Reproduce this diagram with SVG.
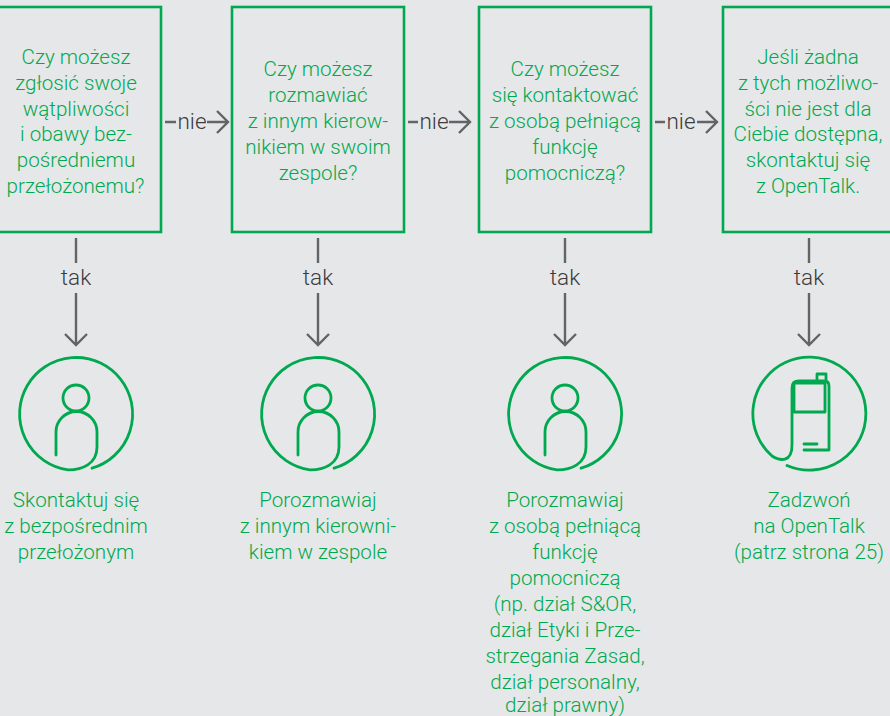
<svg xmlns="http://www.w3.org/2000/svg" width="890" height="716" viewBox="0 0 890 716">
<defs>
<style>
text{font-family:"Roboto","Liberation Sans",sans-serif;font-weight:300;font-size:20.6px;text-anchor:middle}
.g{fill:#00a94f}
.d{fill:#3c3c3e;font-size:22.5px}
.box{fill:none;stroke:#00a94f;stroke-width:2.6}
.ic{fill:none;stroke:#00a94f;stroke-width:2.8;stroke-linecap:round;stroke-linejoin:round}
.c{fill:none;stroke:#636466;stroke-width:2.4}
</style>
<g id="person"><path class="ic" d="M16 54.2A56.5 56.5 0 1 0 -8 55.9C6 56 21 50 21 33V18A20.5 20.5 0 0 0 -20 18V41"/><circle class="ic" cx="0" cy="-16" r="13"/></g>
</defs>
<rect width="890" height="716" fill="#e6e7e8"/>
<g id="connectors">
<path class="c" d="M165 122H176M207 122H228M217 111L228 122L217 133"/>
<path class="c" d="M408 122H418M449 122H470M459 111L470 122L459 133"/>
<path class="c" d="M655 122H665M697 122H717M706 111L717 122L706 133"/>
<path class="c" d="M76 238V263M76 293V345M65 334L76 345L87 334"/>
<path class="c" d="M318 238V263M318 293V345M307 334L318 345L329 334"/>
<path class="c" d="M565 238V263M565 293V345M554 334L565 345L576 334"/>
<path class="c" d="M809 238V263M809 293V345M798 334L809 345L820 334"/>
<text class="d" x="192" y="128.5">nie</text>
<text class="d" x="434" y="128.5">nie</text>
<text class="d" x="681" y="128.5">nie</text>
<text class="d" x="76" y="285">tak</text>
<text class="d" x="318" y="285">tak</text>
<text class="d" x="565" y="285">tak</text>
<text class="d" x="809" y="285">tak</text>
</g>
<g id="q1"><rect class="box" x="-4" y="7" width="165" height="225"/>
<text class="g" x="76" y="64">Czy możesz</text><text class="g" x="76" y="90">zgłosić swoje</text><text class="g" x="76" y="116">wątpliwości</text><text class="g" x="76" y="141">i obawy bez-</text><text class="g" x="76" y="167">pośredniemu</text><text class="g" x="75.5" y="193">przełożonemu?</text></g>
<g id="q2"><rect class="box" x="232" y="7" width="172" height="225"/>
<text class="g" x="318" y="76">Czy możesz</text><text class="g" x="318" y="102">rozmawiać</text><text class="g" x="318" y="128">z innym kierow-</text><text class="g" x="318" y="154">nikiem w swoim</text><text class="g" x="318" y="180">zespole?</text></g>
<g id="q3"><rect class="box" x="479" y="7" width="172" height="225"/>
<text class="g" x="565" y="76">Czy możesz</text><text class="g" x="565" y="102">się kontaktować</text><text class="g" x="565" y="128">z osobą pełniącą</text><text class="g" x="565" y="154">funkcję</text><text class="g" x="565" y="180">pomocniczą?</text></g>
<g id="q4"><rect class="box" x="723" y="7" width="172" height="225"/>
<text class="g" x="808" y="64">Jeśli żadna</text><text class="g" x="808" y="90">z tych możliwo-</text><text class="g" x="808" y="116">ści nie jest dla</text><text class="g" x="808" y="141">Ciebie dostępna,</text><text class="g" x="808" y="167">skontaktuj się</text><text class="g" x="808" y="193">z OpenTalk.</text></g>
<g id="a1"><use href="#person" x="76" y="414"/>
<text class="g" x="76" y="507">Skontaktuj się</text><text class="g" x="76" y="533">z bezpośrednim</text><text class="g" x="76" y="559">przełożonym</text></g>
<g id="a2"><use href="#person" x="318" y="414"/>
<text class="g" x="318" y="507">Porozmawiaj</text><text class="g" x="318" y="533">z innym kierowni-</text><text class="g" x="318" y="559">kiem w zespole</text></g>
<g id="a3"><use href="#person" x="565" y="414"/>
<text class="g" x="565" y="507">Porozmawiaj</text><text class="g" x="565" y="533">z osobą pełniącą</text><text class="g" x="565" y="559">funkcję</text><text class="g" x="565" y="585">pomocniczą</text><text class="g" x="565" y="611">(np. dział S&amp;OR,</text><text class="g" x="565" y="637">dział Etyki i Prze-</text><text class="g" x="565" y="663">strzegania Zasad,</text><text class="g" x="565" y="689">dział personalny,</text><text class="g" x="565" y="712">dział prawny)</text></g>
<g id="a4"><path class="ic" d="M787 465.5A56.5 56.5 0 1 0 772 456C780 461 792 463 792 445V388Q792 381 799 381H824Q829 381 829 386V450H804"/>
<rect class="ic" x="794" y="383" width="31" height="29"/>
<path class="ic" d="M817 381V374H826V381M804 444H817"/>
<text class="g" x="809" y="507">Zadzwoń</text><text class="g" x="809" y="533">na OpenTalk</text><text class="g" x="809" y="559">(patrz strona 25)</text></g>
</svg>
